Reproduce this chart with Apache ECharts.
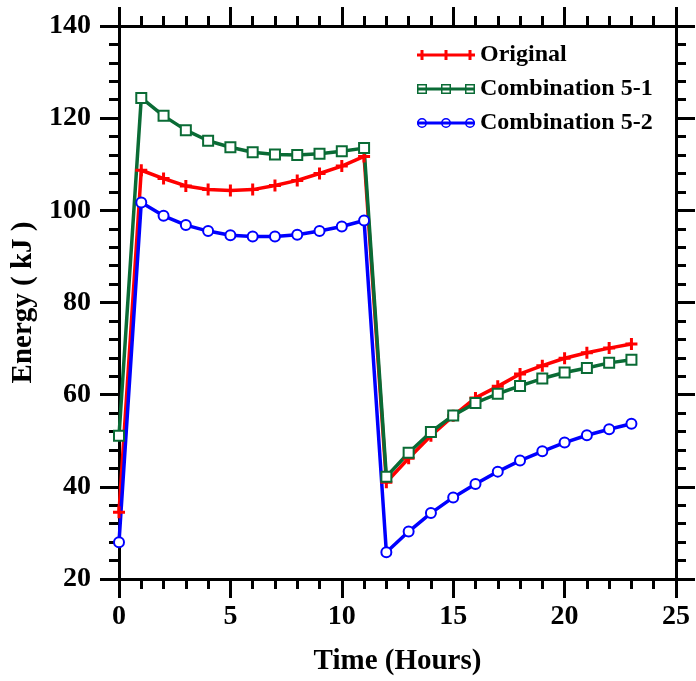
<!DOCTYPE html>
<html>
<head>
<meta charset="utf-8">
<script src="https://cdn.jsdelivr.net/npm/echarts@6/dist/echarts.min.js"></script>
<style>html,body{margin:0;padding:0;background:#fff}#c{width:696px;height:681px}</style>
</head>
<body>
<div id="c"></div>
<script>
var hours = [0,1,2,3,4,5,6,7,8,9,10,11,12,13,14,15,16,17,18,19,20,21,22,23];
var original = [34.5,108.7,106.9,105.3,104.5,104.3,104.5,105.4,106.5,108.0,109.6,111.7,41.0,46.2,51.1,55.4,59.3,61.8,64.5,66.3,67.9,69.1,70.1,71.0];
var combo51 = [51.1,124.4,120.5,117.4,115.1,113.7,112.6,112.1,112.0,112.3,112.8,113.5,42.2,47.4,51.9,55.5,58.2,60.2,61.9,63.5,64.8,65.8,66.9,67.6];
var combo52 = [28.0,101.7,98.8,96.8,95.5,94.6,94.3,94.3,94.7,95.5,96.5,97.8,25.8,30.3,34.3,37.7,40.6,43.3,45.7,47.7,49.6,51.2,52.5,53.7];
var seriesNames = ['Original','Combination 5-1','Combination 5-2'];
var xTicks = {min:0,max:25,interval:5};
var yTicks = {min:20,max:140,interval:20};

var FONT = 'Liberation Serif';
function pairs(v){return hours.map(function(h,i){return [h,v[i]];});}
var plus = 'path://M0,4.5 L12,4.5 L12,7.5 L0,7.5 Z M4.5,0 L7.5,0 L7.5,12 L4.5,12 Z';

// legend icons: line with three markers (58 x 10 box)
var centers = [5,29,53];
var lineRect = 'M0,3.5 L58,3.5 L58,6.5 L0,6.5 Z ';
function iconPlus(){
  return 'path://' + lineRect + centers.map(function(c){
    return 'M'+(c-1.5)+',0 L'+(c+1.5)+',0 L'+(c+1.5)+',10 L'+(c-1.5)+',10 Z';}).join(' ');
}
function iconSquare(){
  return 'path://' + lineRect + centers.map(function(c){
    var o='M'+(c-5)+',0 L'+(c+5)+',0 L'+(c+5)+',10 L'+(c-5)+',10 Z ';
    var i='M'+(c-3.5)+',1.5 L'+(c-3.5)+',8.5 L'+(c+3.5)+',8.5 L'+(c+3.5)+',1.5 Z';
    return o+i;}).join(' ');
}
function iconCircle(){
  return 'path://' + lineRect + centers.map(function(c){
    var o='M'+(c-5)+',5 A5,5 0 1,1 '+(c+5)+',5 A5,5 0 1,1 '+(c-5)+',5 Z ';
    var i='M'+(c-3.5)+',5 A3.5,3.5 0 1,0 '+(c+3.5)+',5 A3.5,3.5 0 1,0 '+(c-3.5)+',5 Z';
    return o+i;}).join(' ');
}

var lineCommon = {
  axisLine:{show:true,onZero:false,lineStyle:{color:'#000',width:3}},
  axisTick:{show:true,inside:false,length:19,lineStyle:{color:'#000',width:3}},
  minorTick:{show:true,splitNumber:5,length:10,lineStyle:{color:'#000',width:3}},
  splitLine:{show:false},minorSplitLine:{show:false}
};
function ax(extra){return Object.assign({}, JSON.parse(JSON.stringify(lineCommon)), extra);}
var chart = echarts.init(document.getElementById('c'));
chart.setOption({
  animation:false,
  backgroundColor:'#fff',
  grid:{left:119,right:20,top:26,bottom:100},
  legend:{
    orient:'vertical',left:412,top:38,itemWidth:58,itemHeight:10,itemGap:10,
    itemStyle:{borderWidth:0},
    textStyle:{fontFamily:FONT,fontWeight:'bold',fontSize:24,color:'#000'},
    data:[
      {name:seriesNames[0],icon:iconPlus()},
      {name:seriesNames[1],icon:iconSquare()},
      {name:seriesNames[2],icon:iconCircle()}
    ]
  },
  xAxis:[
    ax({type:'value',position:'bottom',min:xTicks.min,max:xTicks.max,interval:xTicks.interval,
      name:'Time (Hours)',nameLocation:'middle',nameGap:68,
      nameTextStyle:{fontFamily:FONT,fontWeight:'bold',fontSize:29,color:'#000'},
      axisLabel:{margin:24,fontFamily:FONT,fontWeight:'bold',fontSize:28,color:'#000'}}),
    ax({type:'value',position:'top',min:xTicks.min,max:xTicks.max,interval:xTicks.interval,
      axisLabel:{show:false}})
  ],
  yAxis:[
    ax({type:'value',position:'left',min:yTicks.min,max:yTicks.max,interval:yTicks.interval,
      name:'Energy ( kJ )',nameLocation:'middle',nameGap:76,
      nameTextStyle:{fontFamily:FONT,fontWeight:'bold',fontSize:29,color:'#000'},
      axisLabel:{margin:28,fontFamily:FONT,fontWeight:'bold',fontSize:28,color:'#000'}}),
    ax({type:'value',position:'right',min:yTicks.min,max:yTicks.max,interval:yTicks.interval,
      axisLabel:{show:false}})
  ],
  series:[
    {name:seriesNames[0],type:'line',data:pairs(original),symbol:plus,symbolSize:12,
      lineStyle:{color:'#ff0000',width:3.5},itemStyle:{color:'#ff0000',borderWidth:0}},
    {name:seriesNames[1],type:'line',data:pairs(combo51),symbol:'emptyRect',symbolSize:10,
      lineStyle:{color:'#0a6b35',width:3.5},itemStyle:{color:'#0a6b35',borderWidth:1.5}},
    {name:seriesNames[2],type:'line',data:pairs(combo52),symbol:'emptyCircle',symbolSize:10,
      lineStyle:{color:'#0000ff',width:3.5},itemStyle:{color:'#0000ff',borderWidth:1.5}}
  ]
});
</script>
</body>
</html>
